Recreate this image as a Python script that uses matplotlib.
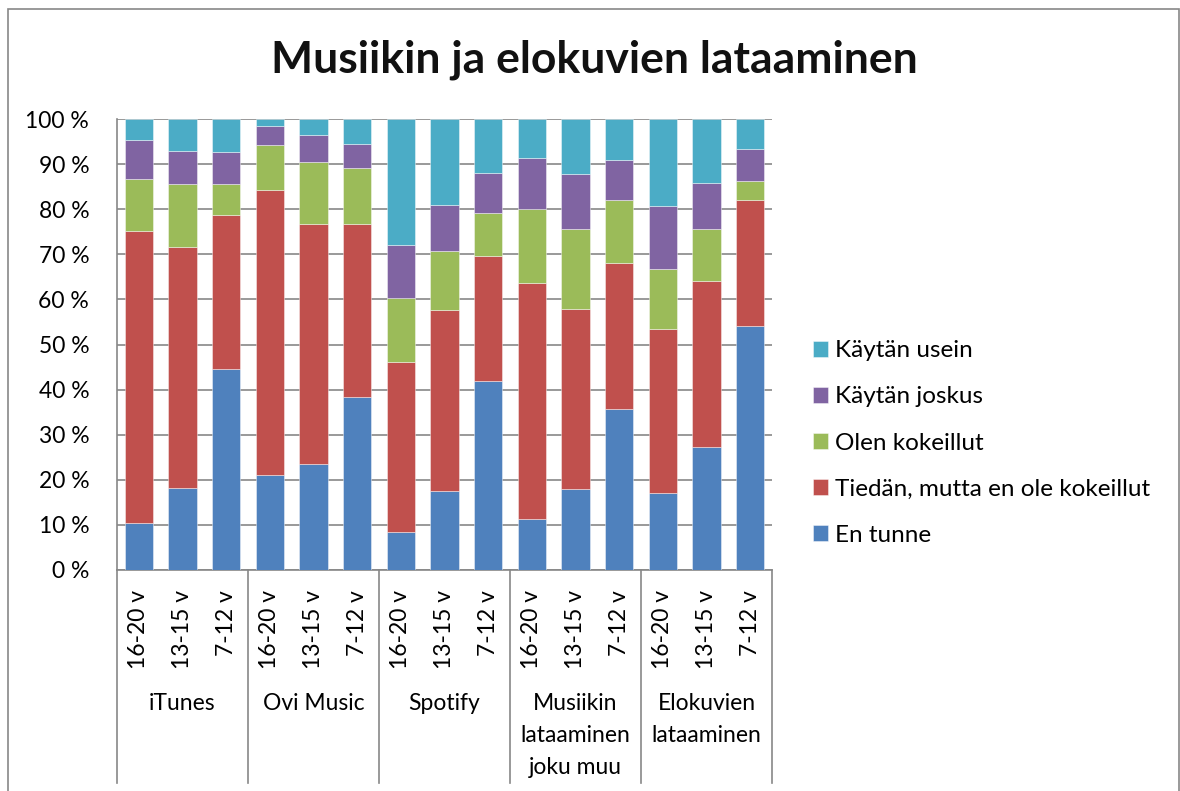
import matplotlib
matplotlib.use("Agg")
import matplotlib.pyplot as plt
import matplotlib.transforms as mtransforms
from matplotlib.patches import Rectangle
import numpy as np

plt.rcParams['font.family'] = ['Lato', 'DejaVu Sans']

# data (percent per segment, bottom to top)
groups = ["iTunes", "Ovi Music", "Spotify", "Musiikin\nlataaminen\njoku muu", "Elokuvien\nlataaminen"]
ages = ["16-20 v", "13-15 v", "7-12 v"]

en_tunne = [10.5, 18.1, 44.5, 21.0, 23.4, 38.4, 8.4, 17.5, 41.8, 11.2, 18.0, 35.8, 17.0, 27.3, 54.0]
tiedan = [64.7, 53.6, 34.2, 63.3, 53.4, 38.4, 37.7, 40.1, 27.9, 52.4, 39.9, 32.3, 36.4, 36.7, 28.0]
kokeillut = [11.6, 13.8, 6.9, 9.9, 13.7, 12.3, 14.1, 13.1, 9.4, 16.4, 17.7, 13.9, 13.3, 11.6, 4.3]
joskus = [8.6, 7.3, 7.0, 4.2, 5.9, 5.4, 11.9, 10.3, 8.9, 11.3, 12.1, 8.8, 14.1, 10.1, 7.0]
usein = [4.6, 7.2, 7.4, 1.6, 3.6, 5.5, 27.9, 19.0, 12.0, 8.7, 12.3, 9.2, 19.2, 14.3, 6.7]

series = [en_tunne, tiedan, kokeillut, joskus, usein]
names = ["En tunne", "Tiedän, mutta en ole kokeillut", "Olen kokeillut", "Käytän joskus", "Käytän usein"]
colors = ["#4F81BD", "#C0504D", "#9BBB59", "#8064A2", "#4BACC6"]

W, H = 1180, 791
fig = plt.figure(figsize=(W / 100, H / 100), dpi=100)
ax = fig.add_axes([117 / W, 1 - 570 / H, 655 / W, 451 / H])

grey = "#878787"
fs = 16.5

x = np.arange(len(en_tunne))
bottom = np.zeros(len(x))
bars = []
for vals, name, col in zip(series, names, colors):
    b = ax.bar(x, vals, bottom=bottom, width=0.65, color=col, label=name,
               edgecolor=(1, 1, 1, 0.6), linewidth=0.5, zorder=3)
    bars.append(b)
    bottom += np.array(vals)

ax.set_xlim(-0.5, len(x) - 0.5)
ax.set_ylim(0, 100)
ax.set_yticks(range(0, 101, 10))
ax.set_yticklabels([f"{v} %" for v in range(0, 101, 10)], fontsize=fs)
ax.yaxis.grid(True, color=grey, linewidth=1.2)
ax.set_axisbelow(True)
ax.tick_params(axis='y', length=0, pad=20)

ax.set_xticks(x)
ax.set_xticklabels(ages * len(groups), rotation=90, fontsize=fs)
ax.tick_params(axis='x', length=0, pad=14.4)

for s in ["top", "right"]:
    ax.spines[s].set_visible(False)
for s in ["left", "bottom"]:
    ax.spines[s].set_color(grey)
    ax.spines[s].set_linewidth(1.2)

# group separators and group names under the age labels
trans = mtransforms.blended_transform_factory(ax.transData, ax.transAxes)
sep_bottom = (570 - 783) / 451
for k in range(len(groups) + 1):
    xs = k * 3 - 0.5
    ax.plot([xs, xs], [0, sep_bottom], color=grey, linewidth=1.2,
            transform=trans, clip_on=False)
for k, g in enumerate(groups):
    ax.text(k * 3 + 1, (570 - 693) / 451, g, transform=trans, ha='center', va='top',
            fontsize=fs, linespacing=1.65, multialignment='center')

# legend, top entry first
handles = bars[::-1]
labels = names[::-1]
fig.legend(handles, labels, loc='center left', bbox_to_anchor=(813 / W, 1 - 443 / H),
           frameon=False, fontsize=17.5, borderpad=0, borderaxespad=0,
           handlelength=0.62, handleheight=0.62, handletextpad=0.3, labelspacing=1.03)

fig.text(594 / W, 1 - 73 / H, "Musiikin ja elokuvien lataaminen", ha='center', va='baseline',
         fontsize=32, fontweight='bold', color="#111111")

# outer chart frame
fig.add_artist(Rectangle((8 / W, -0.05), (1178.5 - 8) / W, (1 - 9 / H) + 0.05,
                         transform=fig.transFigure, fill=False, edgecolor=grey, linewidth=1.2))

fig.savefig("out.png", dpi=100, facecolor="white")
